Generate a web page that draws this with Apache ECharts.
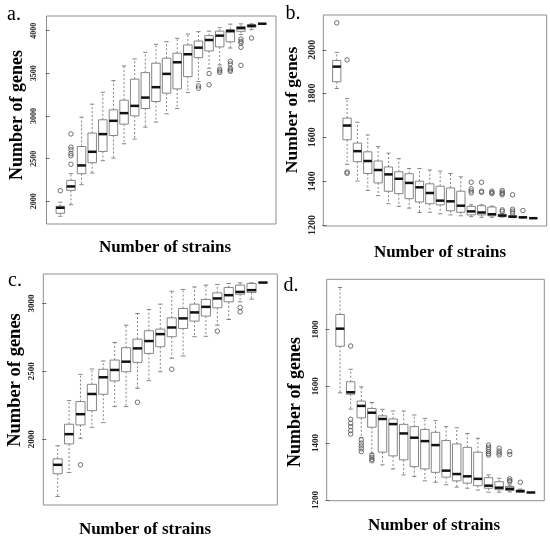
<!DOCTYPE html>
<html>
<head>
<meta charset="utf-8">
<script src="https://cdn.jsdelivr.net/npm/echarts@6/dist/echarts.min.js"></script>
<style>
html,body{margin:0;padding:0;background:#fff;}
#chart{width:550px;height:543px;}
</style>
</head>
<body>
<div id="chart"></div>
<script>
// ---- Panel a: [lowerWhisker, Q1, median, Q3, upperWhisker] per number of strains
const boxesA = [
  [1825,1860,1925,1942,1990],[1961,2129,2175,2246,2324],[2195,2324,2421,2643,2987],
  [2332,2453,2581,2800,3139],[2476,2585,2788,2956,3279],[2507,2772,2944,3073,3415],
  [2675,2905,3034,3186,3587],[2730,3002,3119,3432,3669],[2870,3088,3216,3509,3747],
  [2929,3170,3338,3619,3841],[3026,3268,3494,3677,3871],[3088,3318,3630,3736,3911],
  [3275,3462,3724,3833,3961],[3404,3684,3801,3879,3989],[3560,3763,3891,3942,3995],
  [3600,3810,3942,3995,4035],[3797,3870,3994,4014,4077],[3955,3993,4030,4048,4080],
  [4012,4040,4058,4068,4080],[4082,4082,4082,4082,4082]
];
// outliers: [box number, value]
const outliersA = [
  [1,2125],[2,2790],[2,2635],[2,2605],[2,2560],[2,2535],[2,2435],
  [14,3353],[14,3326],[15,3498],[15,3366],[16,3550],[16,3530],[16,3512],
  [17,3640],[17,3610],[17,3560],[17,3540],[17,3525],
  [18,3902],[18,3875],[18,3855],[18,3805],[18,3594],[19,3914]
];
const ticksA = [2000,2500,3000,3500,4000];

// ---- Panel b
const boxesB = [
  [1823,1854,1923,1951,1988],[1477,1589,1654,1688,1777],[1400,1489,1537,1574,1669],
  [1358,1435,1492,1534,1611],[1334,1392,1451,1492,1558],[1297,1354,1431,1465,1528],
  [1285,1343,1411,1443,1503],[1277,1320,1392,1434,1458],[1257,1305,1372,1400,1458],
  [1258,1297,1346,1388,1451],[1251,1292,1311,1377,1446],[1246,1265,1308,1369,1435],
  [1242,1258,1288,1354,1420],[1238,1246,1262,1285,1292],[1235,1246,1257,1288,1292],
  [1235,1242,1249,1282,1286],[1236,1238,1243,1249,1252],[1233,1235,1238,1242,1245],
  [1231,1233,1235,1237,1239],[1231,1231,1231,1231,1231]
];
const outliersB = [
  [1,2123],[2,1954],[2,1442],[2,1436],
  [14,1395],[14,1365],[14,1355],[14,1346],[15,1395],[15,1354],[15,1349],
  [16,1354],[16,1348],[16,1343],[17,1358],[17,1350],[17,1344],[17,1338],[17,1269],[17,1262],
  [18,1338],[18,1272],[18,1263],[18,1254],[19,1266]
];
const ticksB = [1200,1400,1600,1800,2000];

// ---- Panel c
const boxesC = [
  [1578,1745,1811,1855,1951],[1755,1965,2037,2110,2284],[2007,2105,2184,2277,2478],
  [2088,2210,2333,2404,2517],[2122,2331,2456,2515,2576],[2240,2429,2510,2583,2713],
  [2240,2497,2571,2674,2840],[2375,2566,2669,2737,2926],[2431,2632,2723,2799,2956],
  [2497,2681,2774,2811,2995],[2596,2755,2823,2894,3090],[2613,2816,2890,2963,3103],
  [2755,2870,2934,2995,3122],[2758,2907,2975,3029,3135],[2840,2968,3037,3078,3140],
  [2882,3012,3061,3118,3147],[3012,3068,3085,3135,3152],[3032,3081,3098,3147,3152],
  [3154,3154,3154,3154,3154]
];
const outliersC = [[3,1811],[8,2272],[11,2515],[15,2796],[17,2971],[17,2938]];
const ticksC = [2000,2500,3000];

// ---- Panel d
const boxesD = [
  [1577,1741,1803,1853,1948],[1520,1572,1579,1616,1660],[1420,1489,1531,1548,1598],
  [1364,1456,1507,1522,1543],[1323,1368,1485,1496,1519],[1309,1355,1467,1485,1513],
  [1288,1341,1434,1466,1513],[1282,1317,1419,1458,1499],[1267,1309,1407,1448,1487],
  [1262,1297,1393,1438,1479],[1253,1280,1303,1409,1458],[1245,1267,1291,1397,1454],
  [1241,1259,1283,1385,1434],[1235,1250,1274,1368,1417],[1227,1241,1250,1278,1288],
  [1227,1236,1243,1264,1276],[1228,1233,1239,1247,1252],[1226,1227,1231,1234,1238],
  [1226,1226,1226,1226,1226]
];
const outliersD = [
  [2,1742],[2,1484],[2,1470],[2,1458],[2,1444],[2,1432],
  [3,1411],[3,1400],[3,1390],[3,1380],[3,1370],[4,1358],[4,1350],[4,1343],[4,1338],
  [15,1393],[15,1385],[15,1378],[15,1370],[15,1363],[15,1358],
  [16,1382],[16,1372],[16,1365],[16,1358],
  [17,1370],[17,1360],[17,1274],[17,1268],[17,1264],[18,1262]
];
const ticksD = [1200,1400,1600,1800];

const yTitle = 'Number of genes';
const xTitle = 'Number of strains';
const panelLabels = ['a.','b.','c.','d.'];

const SERIF = '"Liberation Serif","Times New Roman",serif';

const panels = [
  {boxes: boxesA, out: outliersA, ticks: ticksA, grid:{left:46.5, top:16, width:229.5, height:208}, fs:8, margin:9},
  {boxes: boxesB, out: outliersB, ticks: ticksB, grid:{left:323.3, top:15, width:223.4, height:211}, fs:10, margin:6},
  {boxes: boxesC, out: outliersC, ticks: ticksC, grid:{left:43.3, top:274, width:234, height:231}, fs:9, margin:7},
  {boxes: boxesD, out: outliersD, ticks: ticksD, grid:{left:326.7, top:279.3, width:217.6, height:221.4}, fs:9, margin:7}
];

function renderBox(params, api) {
  const x = api.value(0);
  const lo = api.coord([x, api.value(1)]);
  const q1 = api.coord([x, api.value(2)]);
  const md = api.coord([x, api.value(3)]);
  const q3 = api.coord([x, api.value(4)]);
  const hi = api.coord([x, api.value(5)]);
  const w = api.size([0.8, 0])[0];
  const cx = md[0];
  const gray = '#858585';
  const dash = {stroke: gray, lineWidth: 1, lineDash: [2, 2]};
  const solid = {stroke: gray, lineWidth: 1};
  return {
    type: 'group',
    children: [
      {type:'line', shape:{x1:cx, y1:q3[1], x2:cx, y2:hi[1]}, style: dash},
      {type:'line', shape:{x1:cx, y1:q1[1], x2:cx, y2:lo[1]}, style: dash},
      {type:'line', shape:{x1:cx - w/4, y1:hi[1], x2:cx + w/4, y2:hi[1]}, style: solid},
      {type:'line', shape:{x1:cx - w/4, y1:lo[1], x2:cx + w/4, y2:lo[1]}, style: solid},
      {type:'rect', shape:{x:cx - w/2, y:q3[1], width:w, height:q1[1]-q3[1]}, style:{fill:'#fff', stroke:gray, lineWidth:1}},
      {type:'line', shape:{x1:cx - w/2, y1:md[1], x2:cx + w/2, y2:md[1]}, style:{stroke:'#111', lineWidth:2.5}}
    ]
  };
}

const grids = [], xAxes = [], yAxes = [], series = [];
panels.forEach((p, i) => {
  const n = p.boxes.length;
  let lo = Infinity, hi = -Infinity;
  p.boxes.forEach(b => { lo = Math.min(lo, b[0]); hi = Math.max(hi, b[4]); });
  p.out.forEach(o => { lo = Math.min(lo, o[1]); hi = Math.max(hi, o[1]); });
  const pad = (hi - lo) * 0.04;
  grids.push(Object.assign({show:true, borderColor:'#8f8f8f', borderWidth:1, backgroundColor:'transparent', containLabel:false}, p.grid));
  const xpad = n * 0.04;
  xAxes.push({type:'value', gridIndex:i, min:0.5 - xpad, max:n + 0.5 + xpad, show:false});
  yAxes.push({
    type:'value', gridIndex:i, min: lo - pad, max: hi + pad,
    axisLine:{show:false},
    splitLine:{show:false},
    axisTick:{show:true, length:4, lineStyle:{color:'#666'}, customValues:p.ticks},
    axisLabel:{show:true, customValues:p.ticks, rotate:90, fontSize:p.fs, fontWeight:'bold', fontFamily:SERIF, color:'#222', margin:p.margin,
      formatter: v => String(Math.round(v))}
  });
  series.push({
    type:'custom', xAxisIndex:i, yAxisIndex:i, renderItem: renderBox,
    encode:{x:0, y:[1,2,3,4,5]},
    data: p.boxes.map((b, k) => [k + 1].concat(b)),
    silent:true, animation:false
  });
  series.push({
    type:'scatter', xAxisIndex:i, yAxisIndex:i, symbol:'circle', symbolSize:4.5,
    itemStyle:{color:'rgba(255,255,255,0)', borderColor:'#505050', borderWidth:1},
    data: p.out, silent:true, animation:false, z:3
  });
});

const textBase = {fill:'#000', align:'center', verticalAlign:'middle'};
function txt(s, x, y, size, weight, rot) {
  return {type:'text', x:x, y:y, rotation: rot || 0, silent:true,
    style: Object.assign({text:s, font: weight + ' ' + size + 'px ' + SERIF}, textBase)};
}
const graphics = [
  txt(panelLabels[0], 14, 15, 20, 'normal'),
  txt(panelLabels[1], 293, 14, 20, 'normal'),
  txt(panelLabels[2], 15, 281, 20, 'normal'),
  txt(panelLabels[3], 291, 286, 20, 'normal'),
  txt(yTitle, 17, 115, 18, 'bold', Math.PI/2),
  txt(yTitle, 292.5, 110, 17.5, 'bold', Math.PI/2),
  txt(yTitle, 15, 380, 18.5, 'bold', Math.PI/2),
  txt(yTitle, 295.5, 402, 18, 'bold', Math.PI/2),
  txt(xTitle, 165, 248, 17, 'bold'),
  txt(xTitle, 440, 253, 17, 'bold'),
  txt(xTitle, 145, 530, 17, 'bold'),
  txt(xTitle, 434, 526, 17, 'bold')
];

const chart = echarts.init(document.getElementById('chart'), null, {renderer:'canvas'});
chart.setOption({
  animation:false,
  backgroundColor:'#fff',
  grid: grids, xAxis: xAxes, yAxis: yAxes, series: series,
  graphic: graphics
});
</script>
</body>
</html>
